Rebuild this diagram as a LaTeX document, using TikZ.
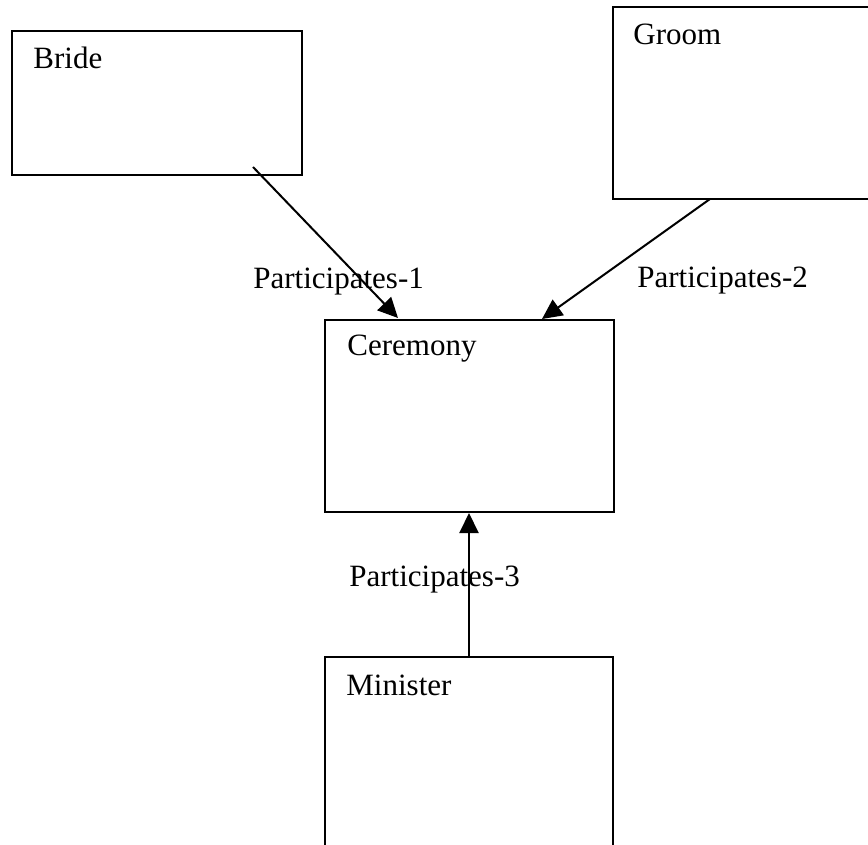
\documentclass[tikz,border=0pt]{standalone}
\usepackage{fontspec}
\setmainfont{Liberation Serif}
\usetikzlibrary{arrows.meta}
\begin{document}
\begin{tikzpicture}[x=0.5pt,y=-0.5pt,
  entity/.style={draw=black, line width=1pt, fill=white},
  txt/.style={anchor=base west, inner sep=0pt, font=\fontsize{15.5pt}{18pt}\selectfont},
  conn/.style={line width=1pt, -{Triangle[length=10pt,width=9.5pt]}}]
\useasboundingbox (0,0) rectangle (868,845);
% boxes
\draw[entity] (12,31) rectangle (302,175);
\draw[entity] (613,7) rectangle (890,199);
\draw[entity] (325,320) rectangle (614,512);
\draw[entity] (325,657) rectangle (613,870);
% box names
\node[txt] (bride) at (33,69) {Bride};
\node[txt] (groom) at (633,45) {Groom};
\node[txt] (ceremony) at (347,356) {Ceremony};
\node[txt] (minister) at (346,695) {Minister};
% connector ends
\coordinate (b1) at (253,167);
\coordinate (c1) at (398,318);
\coordinate (g1) at (710,199);
\coordinate (c2) at (542,319);
\coordinate (m1) at (469,657);
\coordinate (c3) at (469,513);
\draw[conn] (b1) -- (c1);
\draw[conn] (g1) -- (c2);
\draw[conn] (m1) -- (c3);
% labels
\node[txt] (p1) at (253,289) {Participates-1};
\node[txt] (p2) at (637,288) {Participates-2};
\node[txt] (p3) at (349,586) {Participates-3};
\end{tikzpicture}
\end{document}
